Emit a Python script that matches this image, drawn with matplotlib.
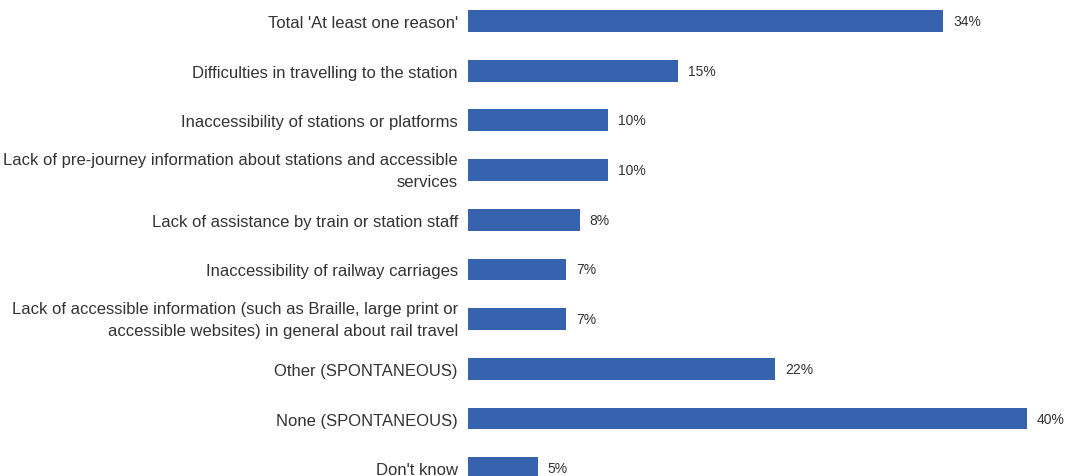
import matplotlib.pyplot as plt

plt.rcParams['font.family'] = ['Liberation Sans', 'DejaVu Sans']

# Reasons for not travelling by rail, share of respondents (%)
reasons = [
    "Total 'At least one reason'",
    "Difficulties in travelling to the station",
    "Inaccessibility of stations or platforms",
    "Lack of pre-journey information about stations and accessible\nservices",
    "Lack of assistance by train or station staff",
    "Inaccessibility of railway carriages",
    "Lack of accessible information (such as Braille, large print or\naccessible websites) in general about rail travel",
    "Other (SPONTANEOUS)",
    "None (SPONTANEOUS)",
    "Don't know",
]
shares = [34, 15, 10, 10, 8, 7, 7, 22, 40, 5]

bar_color = '#3762ae'
text_color = '#333333'

fig = plt.figure(figsize=(10.66, 4.77), dpi=100)
ax = fig.add_axes([468 / 1066, 0, (1027 - 468) / 1066, 1])

ypos = list(range(len(reasons)))
ax.barh(ypos, shares, height=0.44, color=bar_color)

# value labels to the right of each bar
for y, v in zip(ypos, shares):
    ax.annotate(f'{v}%', (v, y), xytext=(7.2, 0), textcoords='offset points',
                va='center', ha='left', fontsize=10, color=text_color,
                annotation_clip=False)

# category labels, wrapped ones nudged up a little
for y, name in zip(ypos, reasons):
    dy = 3.6 if '\n' in name else 0
    ax.annotate(name, (0, y), xycoords=('axes fraction', 'data'),
                xytext=(-7.2, dy), textcoords='offset points',
                va='center_baseline', ha='right', fontsize=12,
                color=text_color, linespacing=1.6, annotation_clip=False)

ax.set_xlim(0, 40)
ax.set_ylim(9.157, -0.443)
ax.set_xticks([])
ax.set_yticks([])
for s in ax.spines.values():
    s.set_visible(False)

fig.savefig('out.png', dpi=100)
